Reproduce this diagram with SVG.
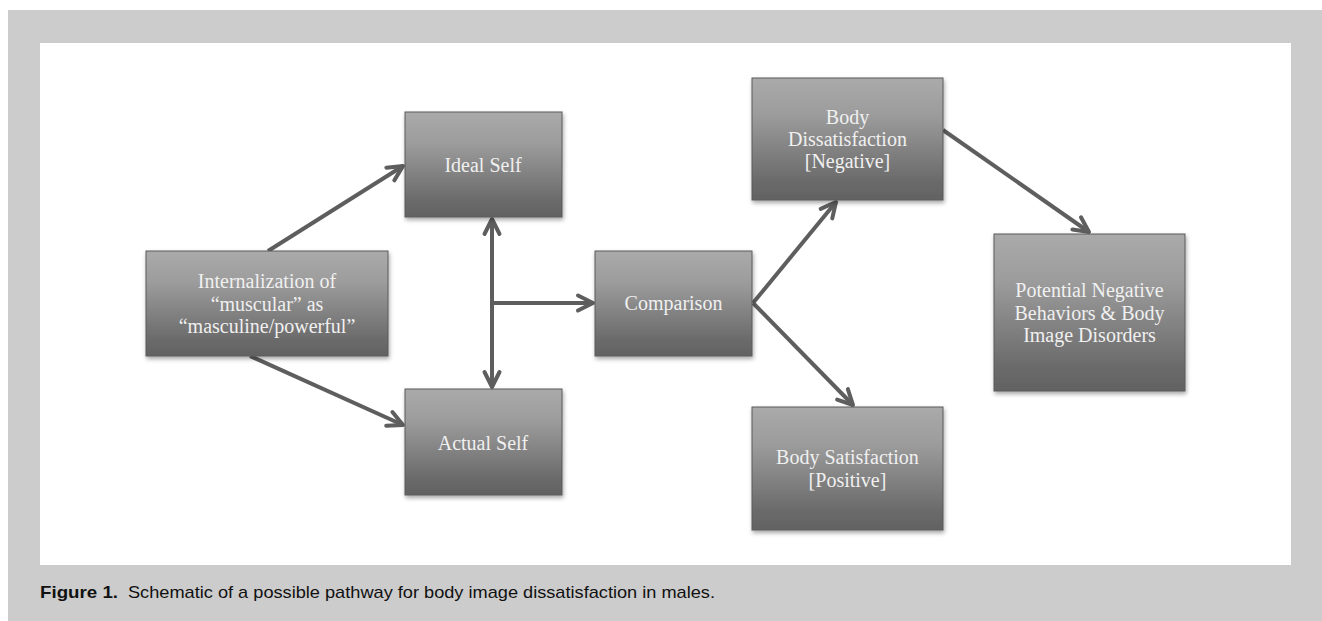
<svg xmlns="http://www.w3.org/2000/svg" width="1322" height="621" viewBox="0 0 1322 621">
<defs>
<linearGradient id="boxg" x1="0" y1="0" x2="0" y2="1">
<stop offset="0" stop-color="#aaaaaa"/>
<stop offset="0.3" stop-color="#9c9c9c"/>
<stop offset="0.85" stop-color="#6a6a6a"/>
<stop offset="1" stop-color="#626262"/>
</linearGradient>
<filter id="sh" x="-10%" y="-10%" width="125%" height="130%">
<feDropShadow dx="1" dy="2.5" stdDeviation="2" flood-color="#000" flood-opacity="0.35"/>
</filter>
<marker id="ah" markerUnits="userSpaceOnUse" markerWidth="30" markerHeight="30" viewBox="-20 -15 30 30" refX="0" refY="0" orient="auto-start-reverse">
<path d="M -15 -7.5 L 0 0 L -15 7.5" fill="none" stroke="#5e5e5e" stroke-width="4" stroke-linecap="round" stroke-linejoin="round"/>
</marker>
<style>
.box{fill:url(#boxg);stroke:#5a5a5a;stroke-width:1;filter:url(#sh)}
.lbl{font-family:"Liberation Serif","Times New Roman",serif;font-size:20px;fill:#f0f0f0;text-anchor:middle}
.con{fill:none;stroke:#5e5e5e;stroke-width:4;stroke-linecap:butt}
.cap{font-family:"Liberation Sans",Arial,sans-serif;font-size:17px;fill:#111}
</style>
</defs>
<rect x="8" y="10" width="1314" height="611" fill="#cccccc"/>
<rect x="40" y="43" width="1251" height="522" fill="#ffffff"/>

<g id="connectors">
<line class="con" x1="268" y1="251" x2="403" y2="166" marker-end="url(#ah)"/>
<line class="con" x1="250" y1="356" x2="403" y2="425" marker-end="url(#ah)"/>
<line class="con" x1="492" y1="219" x2="492" y2="387" marker-start="url(#ah)" marker-end="url(#ah)"/>
<line class="con" x1="492" y1="303" x2="593" y2="303" marker-end="url(#ah)"/>
<line class="con" x1="753" y1="303" x2="836" y2="202" marker-end="url(#ah)"/>
<line class="con" x1="753" y1="303" x2="853" y2="405" marker-end="url(#ah)"/>
<line class="con" x1="943" y1="130" x2="1089" y2="232" marker-end="url(#ah)"/>
</g>

<g id="internalization">
<rect class="box" x="146" y="251" width="242" height="105"/>
<text class="lbl" x="267" y="288">Internalization of</text>
<text class="lbl" x="267" y="310.5">“muscular” as</text>
<text class="lbl" x="267" y="333">“masculine/powerful”</text>
</g>

<g id="ideal-self">
<rect class="box" x="405" y="112" width="157" height="105"/>
<text class="lbl" x="483" y="172">Ideal Self</text>
</g>

<g id="actual-self">
<rect class="box" x="405" y="389" width="157" height="106"/>
<text class="lbl" x="483" y="450">Actual Self</text>
</g>

<g id="comparison">
<rect class="box" x="595" y="251" width="157" height="105"/>
<text class="lbl" x="673.5" y="310">Comparison</text>
</g>

<g id="body-dissatisfaction">
<rect class="box" x="752" y="78" width="191" height="122"/>
<text class="lbl" x="847.5" y="124">Body</text>
<text class="lbl" x="847.5" y="146">Dissatisfaction</text>
<text class="lbl" x="847.5" y="168">[Negative]</text>
</g>

<g id="body-satisfaction">
<rect class="box" x="752" y="407" width="191" height="123"/>
<text class="lbl" x="847.5" y="464">Body Satisfaction</text>
<text class="lbl" x="847.5" y="487">[Positive]</text>
</g>

<g id="potential">
<rect class="box" x="994" y="234" width="191" height="157"/>
<text class="lbl" x="1089.5" y="297">Potential Negative</text>
<text class="lbl" x="1089.5" y="319.5">Behaviors &amp; Body</text>
<text class="lbl" x="1089.5" y="342">Image Disorders</text>
</g>

<g id="caption">
<text class="cap" x="40" y="598" font-weight="bold" textLength="78" lengthAdjust="spacingAndGlyphs">Figure 1.</text>
<text class="cap" x="128" y="598" textLength="587" lengthAdjust="spacingAndGlyphs">Schematic of a possible pathway for body image dissatisfaction in males.</text>
</g>
</svg>
